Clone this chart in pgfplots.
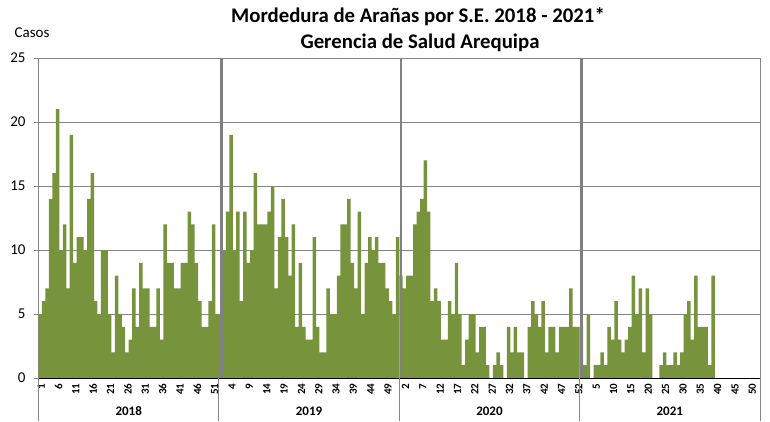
\documentclass[border=0pt]{standalone}
\usepackage{fontspec}
\setmainfont{Carlito}
\usepackage{pgfplots}
\pgfplotsset{compat=1.18}
\usepackage{pgfplotstable}
\definecolor{barg}{RGB}{119,147,60}
\definecolor{gridg}{RGB}{134,134,134}
\definecolor{sepg}{RGB}{128,128,128}

\pgfplotstableread{
w c
1 5
2 6
3 7
4 14
5 16
6 21
7 10
8 12
9 7
10 19
11 9
12 11
13 11
14 10
15 14
16 16
17 6
18 5
19 10
20 10
21 5
22 2
23 8
24 5
25 4
26 2
27 3
28 7
29 4
30 9
31 7
32 7
33 4
34 4
35 7
36 3
37 12
38 9
39 9
40 7
41 7
42 9
43 9
44 13
45 12
46 9
47 6
48 4
49 4
50 6
51 12
52 5
}\yrA

\pgfplotstableread{
w c
1 5
2 10
3 13
4 19
5 10
6 13
7 6
8 13
9 9
10 10
11 16
12 12
13 12
14 12
15 13
16 15
17 7
18 11
19 14
20 11
21 8
22 12
23 4
24 9
25 4
26 3
27 3
28 11
29 4
30 2
31 2
32 7
33 5
34 5
35 8
36 12
37 12
38 14
39 9
40 7
41 13
42 5
43 9
44 11
45 10
46 11
47 9
48 9
49 7
50 6
51 5
52 11
}\yrB

\pgfplotstableread{
w c
1 8
2 7
3 8
4 8
5 12
6 13
7 14
8 17
9 13
10 6
11 7
12 6
13 3
14 3
15 6
16 5
17 9
18 5
19 1
20 3
21 5
22 5
23 2
24 4
25 4
26 1
27 0
28 1
29 2
30 1
31 0
32 4
33 2
34 4
35 2
36 2
37 0
38 4
39 6
40 5
41 4
42 6
43 2
44 4
45 4
46 2
47 4
48 4
49 4
50 7
51 4
52 4
}\yrC

\pgfplotstableread{
w c
1 4
2 1
3 5
4 0
5 1
6 1
7 2
8 1
9 4
10 3
11 6
12 3
13 2
14 3
15 4
16 8
17 5
18 7
19 2
20 7
21 5
22 0
23 0
24 1
25 2
26 1
27 1
28 2
29 1
30 2
31 5
32 6
33 3
34 8
35 4
36 4
37 4
38 1
39 8
}\yrD

\begin{document}
\begin{tikzpicture}
\path[use as bounding box] (-38.5pt,-43pt) rectangle (731.5pt,378pt);
\begin{axis}[
  at={(0pt,0pt)}, anchor=south west,
  scale only axis, width=721.5pt, height=320pt,
  xmin=0.5, xmax=208.5, ymin=0, ymax=25,
  clip=false,
  ybar, bar width=1,
  axis line style={gridg, line width=0.8pt},
  ytick={0,5,10,15,20,25},
  ymajorgrids, grid style={gridg, line width=0.8pt},
  ytick pos=left, tick align=outside, major tick length=4.5pt,
  ytick style={gridg, line width=0.8pt},
  xtick style={draw=none},
  xtick={1,6,...,206},
  xticklabels={1,6,11,16,21,26,31,36,41,46,51,4,9,14,19,24,29,34,39,44,49,2,7,12,17,22,27,32,37,42,47,52,5,10,15,20,25,30,35,40,45,50},
  xticklabel style={rotate=90, anchor=east, font=\bfseries\fontsize{11}{13}\selectfont, inner sep=1pt, yshift=-1pt},
  yticklabel style={font=\fontsize{15}{18}\selectfont, xshift=-5pt},
  /pgf/number format/assume math mode=true,
]
\addplot[fill=barg, draw=none, bar shift=0pt] table[x=w, y=c] {\yrA};
\addplot[fill=barg, draw=none, bar shift=0pt] table[x expr=\thisrow{w}+52, y=c] {\yrB};
\addplot[fill=barg, draw=none, bar shift=0pt] table[x expr=\thisrow{w}+104, y=c] {\yrC};
\addplot[fill=barg, draw=none, bar shift=0pt] table[x expr=\thisrow{w}+156, y=c] {\yrD};
\draw[sepg, line width=2.7pt] (axis cs:53.2,0) -- (axis cs:53.2,25);
\draw[sepg, line width=2.7pt] (axis cs:105,0) -- (axis cs:105,25);
\draw[sepg, line width=2.7pt] (axis cs:157.1,0) -- (axis cs:157.1,25);
\draw[black, line width=0.9pt] (axis cs:0.5,0) -- (axis cs:208.5,0);
\draw[gridg, line width=0.8pt] (axis cs:0.5,0) -- ++(0pt,-43pt);
\draw[gridg, line width=0.8pt] (axis cs:52.5,0) -- ++(0pt,-43pt);
\draw[gridg, line width=0.8pt] (axis cs:104.5,0) -- ++(0pt,-43pt);
\draw[gridg, line width=0.8pt] (axis cs:156.5,0) -- ++(0pt,-43pt);
\draw[gridg, line width=0.8pt] (axis cs:208.5,0) -- ++(0pt,-43pt);
\node[font=\bfseries\fontsize{13}{15}\selectfont, yshift=-33pt] at (axis cs:26.5,0) {2018};
\node[font=\bfseries\fontsize{13}{15}\selectfont, yshift=-33pt] at (axis cs:78.5,0) {2019};
\node[font=\bfseries\fontsize{13}{15}\selectfont, yshift=-33pt] at (axis cs:130.5,0) {2020};
\node[font=\bfseries\fontsize{13}{15}\selectfont, yshift=-33pt] at (axis cs:182.5,0) {2021};
\end{axis}
\node[font=\bfseries\fontsize{20.8}{25}\selectfont] at (379.5pt,361pt) {Mordedura de Arañas por S.E. 2018 - 2021*};
\node[font=\bfseries\fontsize{20.8}{25}\selectfont] at (381.5pt,335pt) {Gerencia de Salud Arequipa};
\node[font=\fontsize{15}{17}\selectfont] at (-6.5pt,345pt) {Casos};
\end{tikzpicture}
\end{document}
